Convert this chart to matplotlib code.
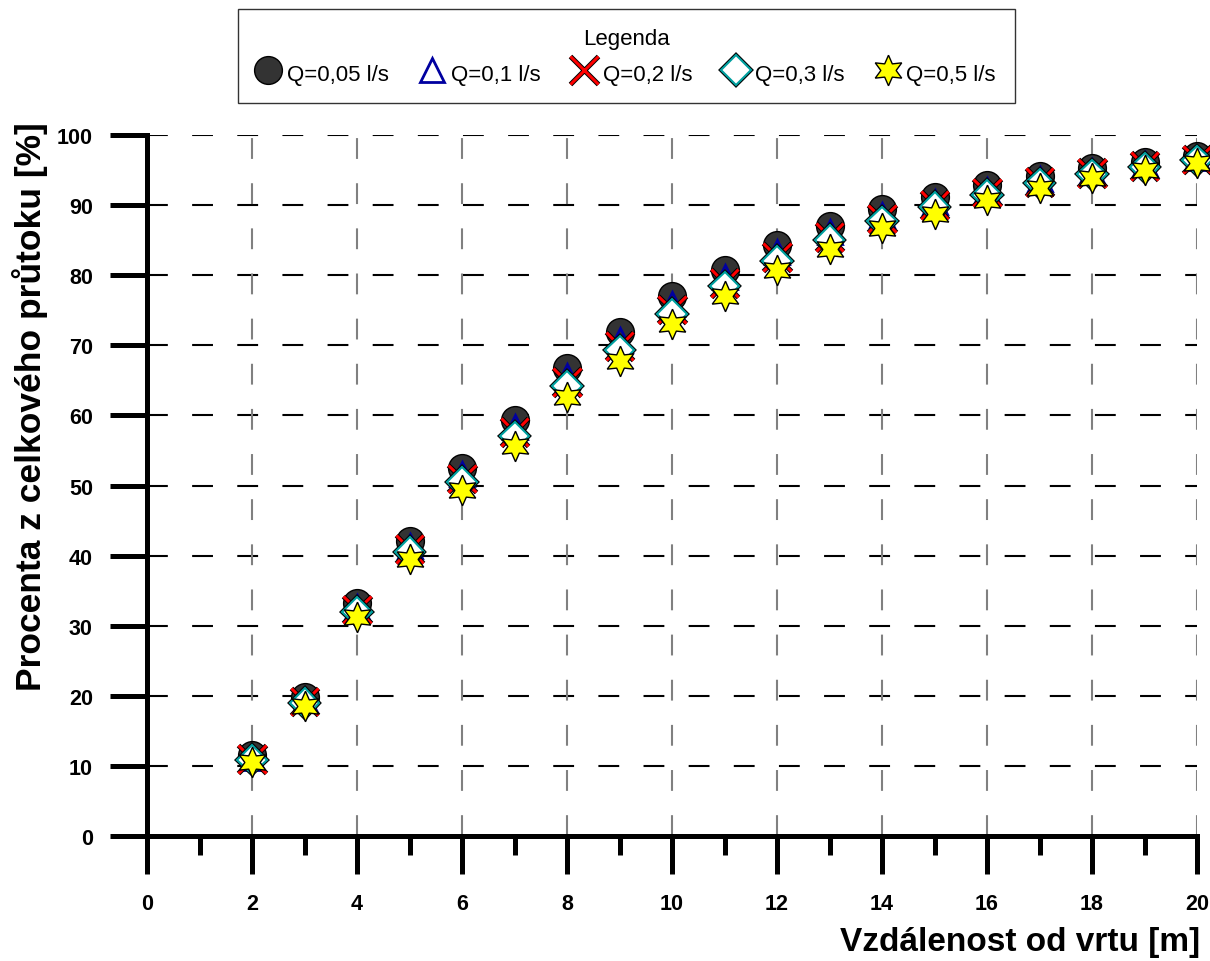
import matplotlib
matplotlib.use("Agg")
import matplotlib.pyplot as plt
import matplotlib.patheffects as pe

plt.rcParams['font.family'] = ['Liberation Sans', 'DejaVu Sans']
plt.rcParams['lines.scale_dashes'] = False

# data
vzdalenost = [2, 3, 4, 5, 6, 7, 8, 9, 10, 11, 12, 13, 14, 15, 16, 17, 18, 19, 20]
q005 = [11.5, 19.8, 33.3, 42.1, 52.5, 59.3, 66.8, 71.9, 77.0, 80.7, 84.3, 87.0, 89.4, 91.2, 92.8, 94.2, 95.3, 96.2, 97.0]
q01 = [11.2, 19.4, 32.7, 41.4, 51.6, 58.3, 65.6, 70.7, 75.9, 79.7, 83.3, 86.1, 88.6, 90.5, 92.2, 93.7, 94.9, 95.9, 96.7]
q02 = [11.0, 19.2, 32.3, 40.9, 51.0, 57.6, 64.8, 69.9, 75.1, 78.9, 82.6, 85.5, 88.1, 90.0, 91.8, 93.3, 94.6, 95.6, 96.5]
q03 = [10.9, 19.0, 32.0, 40.5, 50.5, 57.0, 64.2, 69.3, 74.5, 78.4, 82.1, 85.0, 87.7, 89.7, 91.5, 93.1, 94.4, 95.4, 96.4]
q05 = [10.5, 18.5, 31.2, 39.5, 49.3, 55.7, 62.7, 67.8, 73.1, 77.0, 80.8, 83.8, 86.7, 88.8, 90.7, 92.4, 93.8, 95.0, 96.0]
popisky = ['Q=0,05 l/s', 'Q=0,1 l/s', 'Q=0,2 l/s', 'Q=0,3 l/s', 'Q=0,5 l/s']

fig = plt.figure(figsize=(12.1, 9.62), dpi=100)
ax = fig.add_axes([0.1215, 0.1299, 0.8678, 0.7287])
ax.set_xlim(0, 20)
ax.set_ylim(0, 100)

# mrizka - vodorovne cerne, svisle sede
for y in range(10, 101, 10):
    ax.axhline(y, color='black', lw=1.5, ls=(0, (15, 17.5)), zorder=1)
for x in range(2, 21, 2):
    ax.axvline(x, color='#808080', lw=1.5, ls=(0, (15, 17.5)), zorder=1)

obrys = [pe.Stroke(linewidth=3.6, foreground='black'), pe.Normal()]
ax.plot(vzdalenost, q005, ls='none', marker='o', ms=20, mfc='#333333', mec='black', mew=1,
        label=popisky[0], clip_on=False, zorder=3)
ax.plot(vzdalenost, q01, ls='none', marker='^', ms=17, mfc='none', mec='#0000a0', mew=2,
        label=popisky[1], clip_on=False, zorder=4)
ax.plot(vzdalenost, q02, ls='none', marker='x', ms=20, mec='red', mew=2.2,
        label=popisky[2], clip_on=False, zorder=5, path_effects=obrys)
ax.plot(vzdalenost, q03, ls='none', marker='D', ms=15, mfc='white', mec='#00a0a0', mew=1.5,
        label=popisky[3], clip_on=False, zorder=6,
        path_effects=[pe.Stroke(linewidth=3, foreground='black'), pe.Normal()])
ax.plot(vzdalenost, q05, ls='none', marker=(6, 1, 0), ms=22, mfc='yellow', mec='black', mew=1,
        label=popisky[4], clip_on=False, zorder=7)

for s in ['top', 'right']:
    ax.spines[s].set_visible(False)
for s in ['left', 'bottom']:
    ax.spines[s].set_linewidth(3.6)

ax.set_xticks(range(0, 21, 2))
ax.set_xticks(range(1, 20, 2), minor=True)
ax.set_yticks(range(0, 101, 10))
ax.tick_params(axis='x', which='major', length=27, width=3.6, direction='out', pad=14, labelsize=15.5)
ax.tick_params(axis='x', which='minor', length=14, width=3.6, direction='out')
ax.tick_params(axis='y', which='major', length=27, width=3.6, direction='out', pad=12, labelsize=15.5)
for lab in ax.get_xticklabels() + ax.get_yticklabels():
    lab.set_fontweight('bold')

fig.text(0.992, 1 - 943 / 962, 'Vzdálenost od vrtu [m]', ha='right', va='center',
         fontsize=24, fontweight='bold')
fig.text(0.025, 1 - 407 / 962, 'Procenta z celkového průtoku [%]', ha='center', va='center',
         rotation=90, fontsize=25.5, fontweight='bold')

leg = fig.legend(loc='upper center', bbox_to_anchor=(0.5178, 1 - 10 / 962), ncol=5,
                 title='Legenda', fontsize=16, title_fontsize=16, frameon=True, fancybox=False,
                 edgecolor='black', handletextpad=0.35, columnspacing=1.45, handlelength=1.0,
                 handleheight=1.3, borderpad=0.85, borderaxespad=0)
leg.get_frame().set_linewidth(1)

fig.savefig('out.png', dpi=100)
